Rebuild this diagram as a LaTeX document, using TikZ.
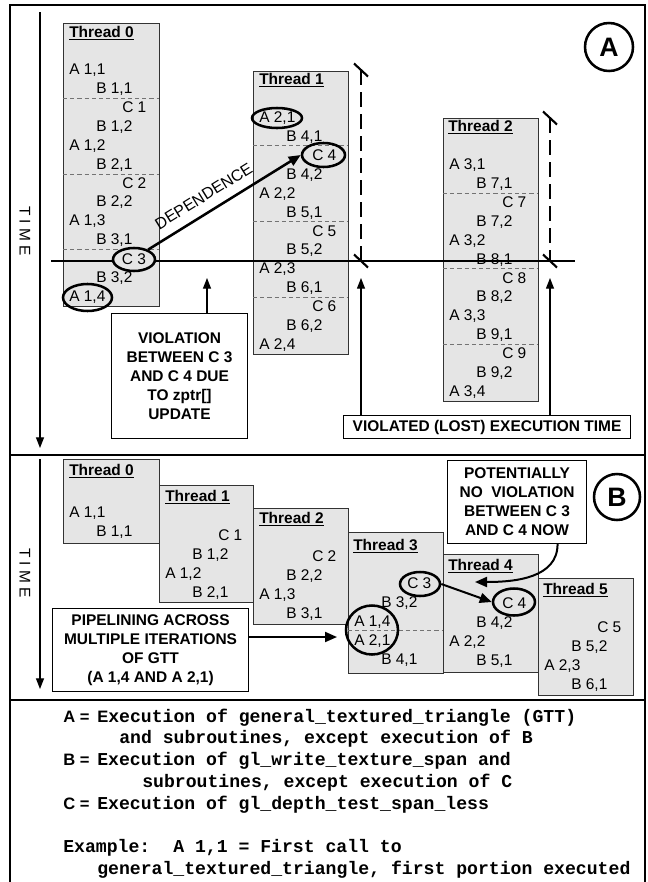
\documentclass[tikz,border=0pt]{standalone}
\usepackage{fontspec}
\setmainfont{Liberation Sans}
\newfontfamily\legmonofont{Liberation Mono}
\usetikzlibrary{shapes.geometric,arrows.meta}
\newcounter{rn}
\newcommand\trow[3]{\stepcounter{rn}\edef\rwname{rw\arabic{rn}}\node[rowtext] (\rwname) at ({#1},{\ty+(#2)*18.92+5.5}) {#3};}
\newcommand\rowa[2]{\trow{\tx+6}{#1}{#2}}
\newcommand\rowb[2]{\trow{\tx+33}{#1}{#2}}
\newcommand\rowc[2]{\trow{\tx+59}{#1}{#2}}
\newcommand\tbox[5]{\node[tbox, minimum width={(#4-#2)*0.75pt}, minimum height={(#5-#3)*0.75pt}] (#1) at (#2,#3) {};}
\newcommand\sep[3]{\draw[sepline] (#1,#3) -- (#2,#3);}
\begin{document}
\begin{tikzpicture}[x=0.75pt,y=-0.75pt,
  tbox/.style={draw=black!80, line width=0.8pt, fill=gray!20, inner sep=0pt, anchor=north west},
  note/.style={draw=black, line width=0.8pt, fill=white, inner sep=0pt, anchor=north west, align=center, font=\bfseries\fontsize{11.6}{14.3}\selectfont},
  rowtext/.style={anchor=base west, inner sep=0pt, font=\fontsize{11.6}{14}\selectfont},
  ttl/.style={anchor=base west, inner sep=0pt, font=\bfseries\fontsize{11.6}{14}\selectfont},
  sepline/.style={draw=black!55, line width=0.7pt, dash pattern=on 3.2pt off 2.2pt},
  ring/.style={ellipse, draw, line width=1.9pt, inner sep=0pt},
  frameline/.style={line width=2.2pt},
  thinarrow/.style={line width=0.9pt, -{Triangle[length=8pt,width=6pt]}},
  boldarrow/.style={line width=1.9pt, -{Triangle[length=9pt,width=7.5pt]}},
  timeline/.style={line width=2.2pt},
  lostline/.style={line width=2.2pt, dash pattern=on 11pt off 5.5pt},
  tickln/.style={line width=1.6pt},
  timelabel/.style={rotate=-90, inner sep=0pt, font=\fontsize{11.6}{14}\selectfont},
  legtext/.style={anchor=base west, inner sep=0pt, font=\legmonofont\bfseries\fontsize{13.6}{16}\selectfont},
  legkey/.style={anchor=base west, inner sep=0pt, font=\bfseries\fontsize{12.4}{14}\selectfont},
  lettercircle/.style={circle, draw, line width=1.9pt, inner sep=0pt, font=\bfseries\fontsize{20}{20}\selectfont}
]
\useasboundingbox (0,0) rectangle (648,882);
\fill[white] (0,0) rectangle (648,882);

% ---------------- frame ----------------
\draw[frameline] (10,882) -- (10,5) -- (645,5) -- (645,882);
\draw[frameline] (10,455) -- (645,455);
\draw[frameline] (10,700) -- (645,700);

% ---------------- panel A ----------------
\coordinate (tA1) at (40,12);
\coordinate (tA2) at (40,448);
\draw[thinarrow] (tA1) -- (tA2);
\node[timelabel] (timeA) at (25,231) {T I M E};

\tbox{tA0}{63}{23}{159}{306}
\tbox{tA1b}{253}{71}{348}{354}
\tbox{tA2b}{443}{118}{538}{401}

\sep{63}{159}{98}\sep{63}{159}{174}\sep{63}{159}{249}
\sep{253}{348}{145}\sep{253}{348}{221}\sep{253}{348}{297}
\sep{443}{538}{193}\sep{443}{538}{268}\sep{443}{538}{344}

\node[ttl] (ttlA0) at (69,37.5) {\underline{Thread 0}};
\node[ttl] (ttlA1) at (259,84.5) {\underline{Thread 1}};
\node[ttl] (ttlA2) at (448,131.5) {\underline{Thread 2}};

\def\tx{63}\def\ty{69}
\rowa{0}{A 1,1}\rowb{1}{B 1,1}\rowc{2}{C 1}\rowb{3}{B 1,2}\rowa{4}{A 1,2}\rowb{5}{B 2,1}
\rowc{6}{C 2}\rowb{7}{B 2,2}\rowa{8}{A 1,3}\rowb{9}{B 3,1}\rowb{11}{B 3,2}\rowa{12}{A 1,4}

\def\tx{253}\def\ty{117}
\rowa{0}{A 2,1}\rowb{1}{B 4,1}\rowc{2}{C 4}\rowb{3}{B 4,2}\rowa{4}{A 2,2}\rowb{5}{B 5,1}
\rowc{6}{C 5}\rowb{7}{B 5,2}\rowa{8}{A 2,3}\rowb{9}{B 6,1}\rowc{10}{C 6}\rowb{11}{B 6,2}\rowa{12}{A 2,4}

\def\tx{443}\def\ty{164}
\rowa{0}{A 3,1}\rowb{1}{B 7,1}\rowc{2}{C 7}\rowb{3}{B 7,2}\rowa{4}{A 3,2}\rowb{5}{B 8,1}
\rowc{6}{C 8}\rowb{7}{B 8,2}\rowa{8}{A 3,3}\rowb{9}{B 9,1}\rowc{10}{C 9}\rowb{11}{B 9,2}\rowa{12}{A 3,4}

% time line and lost-time markers
\coordinate (hl1) at (51,261);
\coordinate (hl2) at (575,261);
\draw[timeline] (hl1) -- (hl2);

\coordinate (d1a) at (361,70);
\coordinate (d1b) at (361,261);
\coordinate (d2a) at (550,118);
\coordinate (d2b) at (550,261);
\draw[lostline] (d1a) -- (d1b);
\draw[lostline] (d2a) -- (d2b);
\draw[tickln] (354,63.5) -- (368,76.5);
\draw[tickln] (354,254.5) -- (368,267.5);
\draw[tickln] (543,111.5) -- (557,124.5);
\draw[tickln] (543,254.5) -- (557,267.5);

% ellipses
\node[ring, fill=gray!20, minimum width={42*0.75pt}, minimum height={23*0.75pt}, font=\fontsize{11.6}{14}\selectfont] (cA3) at (134,259.5) {C 3};
\node[ring, minimum width={43*0.75pt}, minimum height={24*0.75pt}] (cA4) at (323.5,155) {};
\node[ring, minimum width={50*0.75pt}, minimum height={20*0.75pt}] (eA21) at (277,118) {};
\node[ring, minimum width={49*0.75pt}, minimum height={27*0.75pt}] (eA14) at (87.5,297.5) {};

\draw[boldarrow] (cA3.35) -- (cA4.west)
  node[pos=0.42, sloped, above=7pt, inner sep=0pt, font=\fontsize{12}{14}\selectfont] (deplbl) {DEPENDENCE};

% notes
\node[note, minimum width={136*0.75pt}, minimum height={125*0.75pt}] (viol) at (111,313) {VIOLATION\\BETWEEN C 3\\AND C 4 DUE\\TO zptr[]\\UPDATE};
\node[note, minimum width={287*0.75pt}, minimum height={23*0.75pt}] (lost) at (343,415) {VIOLATED (LOST) EXECUTION TIME};
\coordinate (violtip) at (207,278);
\coordinate (lt1) at (361,278);
\coordinate (lt2) at (550,278);
\draw[thinarrow] (viol.north -| violtip) -- (violtip);
\draw[thinarrow] (lost.north -| lt1) -- (lt1);
\draw[thinarrow] (lost.north -| lt2) -- (lt2);

\node[lettercircle, minimum size={48*0.75pt}] (circA) at (609,47) {A};

% ---------------- panel B ----------------
\coordinate (tB1) at (40,459);
\coordinate (tB2) at (40,689);
\draw[thinarrow] (tB1) -- (tB2);
\node[timelabel] (timeB) at (25,573) {T I M E};

\tbox{tB0}{63}{459}{159}{543}
\tbox{tB1b}{159}{485}{253}{602}
\tbox{tB2b}{253}{508}{348}{624}
\tbox{tB3b}{348}{532}{443}{673}
\tbox{tB4b}{443}{554}{538}{672}
\tbox{tB5b}{538}{578}{633}{695}
\sep{348}{443}{630}

\node[ttl] (ttlB0) at (69,475.5) {\underline{Thread 0}};
\node[ttl] (ttlB1) at (165,501.5) {\underline{Thread 1}};
\node[ttl] (ttlB2) at (259,523.5) {\underline{Thread 2}};
\node[ttl] (ttlB3) at (353,550.5) {\underline{Thread 3}};
\node[ttl] (ttlB4) at (448,570.5) {\underline{Thread 4}};
\node[ttl] (ttlB5) at (543,594.5) {\underline{Thread 5}};

\def\tx{63}\def\ty{512}
\rowa{0}{A 1,1}\rowb{1}{B 1,1}
\def\tx{159}\def\ty{535}
\rowc{0}{C 1}\rowb{1}{B 1,2}\rowa{2}{A 1,2}\rowb{3}{B 2,1}
\def\tx{253}\def\ty{556}
\rowc{0}{C 2}\rowb{1}{B 2,2}\rowa{2}{A 1,3}\rowb{3}{B 3,1}
\def\tx{348}\def\ty{583}
\rowc{0}{C 3}\rowb{1}{B 3,2}\rowa{2}{A 1,4}\rowa{3}{A 2,1}\rowb{4}{B 4,1}
\def\tx{443}\def\ty{603}
\rowc{0}{C 4}\rowb{1}{B 4,2}\rowa{2}{A 2,2}\rowb{3}{B 5,1}
\def\tx{538}\def\ty{627}
\rowc{0}{C 5}\rowb{1}{B 5,2}\rowa{2}{A 2,3}\rowb{3}{B 6,1}

\node[ring, minimum width={40*0.75pt}, minimum height={24*0.75pt}] (cB3) at (420,584) {};
\node[ring, minimum width={42*0.75pt}, minimum height={27*0.75pt}] (cB4) at (514,602) {};
\node[ring, minimum width={52*0.75pt}, minimum height={49*0.75pt}] (eB14) at (372,630) {};
\draw[boldarrow, line width=1.5pt] (cB3.east) -- (cB4.west);

\node[note, minimum width={196*0.75pt}, minimum height={83*0.75pt}] (pip) at (52,608) {PIPELINING ACROSS\\MULTIPLE ITERATIONS\\OF GTT\\(A 1,4 AND A 2,1)};
\coordinate (piptip) at (337,637);
\draw[boldarrow, line width=1.5pt] (pip.east |- piptip) -- (piptip);

\node[note, minimum width={139*0.75pt}, minimum height={83*0.75pt}] (pot) at (447,460) {POTENTIALLY\\NO\ \ VIOLATION\\BETWEEN C 3\\AND C 4 NOW};
\coordinate (pottip) at (475,582);
\draw[boldarrow, line width=1.5pt] ([xshift=30.4pt]pot.south) .. controls +(0,34) and +(40,0) .. (pottip);

\node[lettercircle, minimum size={46*0.75pt}] (circB) at (617,497) {B};

% ---------------- legend ----------------
\node[legkey] (keyA) at (63,722) {A =};
\node[legtext] (legA1) at (97,722) {{\rmfamily\bfseries\fontsize{12.4}{14}\selectfont E}xecution of general\_textured\_triangle (GTT)};
\node[legtext] (legA2) at (119,743.8) {and subroutines, except execution of B};
\node[legkey] (keyB) at (63,765.6) {B =};
\node[legtext] (legB1) at (97,765.6) {Execution of gl\_write\_texture\_span and};
\node[legtext] (legB2) at (142,787.4) {subroutines, except execution of C};
\node[legkey] (keyC) at (63,809.2) {C =};
\node[legtext] (legC1) at (97,809.2) {Execution of gl\_depth\_test\_span\_less};
\node[legtext] (legEx1) at (63,852.8) {Example:};
\node[legtext] (legEx2) at (173,852.8) {A 1,1 = First call to};
\node[legtext] (legEx3) at (97,874.6) {general\_textured\_triangle, first portion executed};
\end{tikzpicture}
\end{document}
